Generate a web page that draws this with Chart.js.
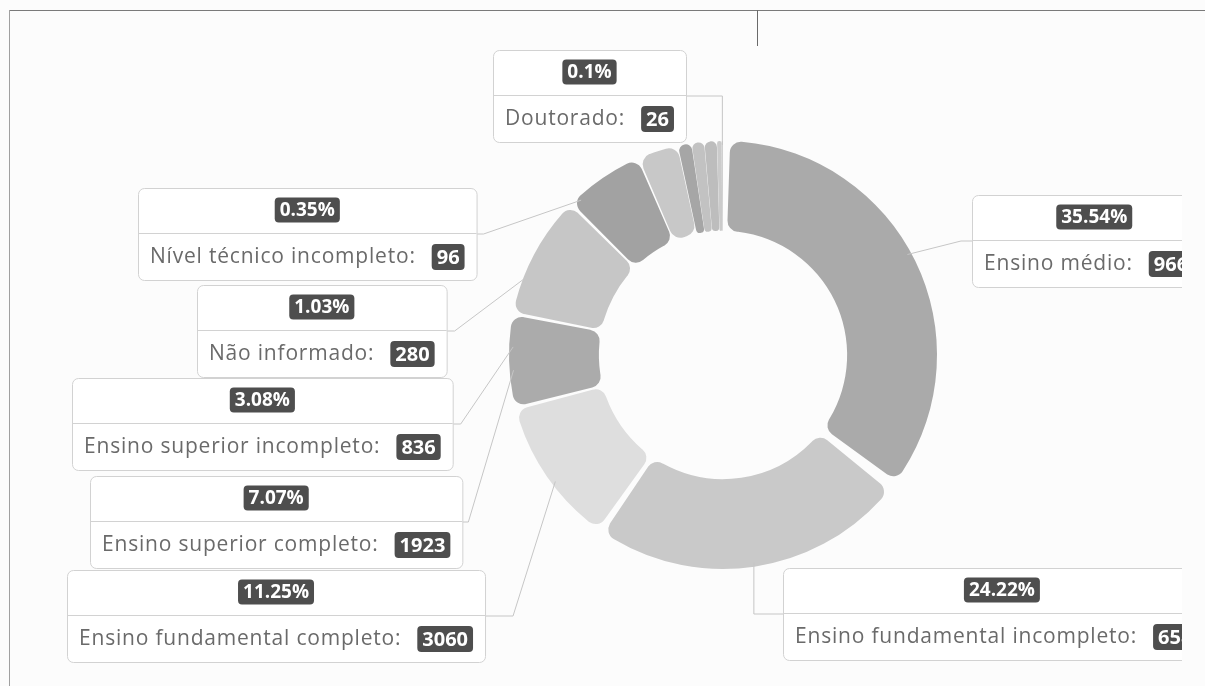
<!DOCTYPE html>
<html lang="pt-BR">
<head>
<meta charset="utf-8">
<title>Escolaridade</title>
<script src="https://cdn.jsdelivr.net/npm/chart.js@4.4.1/dist/chart.umd.min.js"></script>
<style>
    html, body { margin: 0; padding: 0; background: #fcfcfc; }
    body { width: 1205px; height: 686px; position: relative; overflow: hidden; }
    #wrap { position: absolute; left: 0; top: 0; width: 1182px; height: 686px; }
    .frame-top { position: absolute; left: 9px; top: 10px; width: 1196px; height: 1px; background: #7a7a7a; }
    .frame-left { position: absolute; left: 9px; top: 10px; width: 1px; height: 676px; background: #a0a0a0; }
    .frame-tick { position: absolute; left: 757px; top: 10px; width: 1px; height: 36px; background: #6a6a6a; }
</style>
</head>
<body>
<div id="wrap"><canvas id="escolaridade" width="1182" height="686"></canvas></div>
<div class="frame-top"></div>
<div class="frame-left"></div>
<div class="frame-tick"></div>
<script>
// data
const categories = [
    "Ensino médio",
    "Ensino fundamental incompleto",
    "Ensino fundamental completo",
    "Ensino superior completo",
    "Nível técnico completo",
    "Pós-graduação",
    "Ensino superior incompleto",
    "Não informado",
    "Mestrado",
    "Sem escolaridade",
    "Nível técnico incompleto",
    "Doutorado"
];
const counts = [9663, 6585, 3060, 1923, 2550, 1650, 836, 280, 260, 259, 96, 26];
const shares = [35.54, 24.22, 11.25, 7.07, null, null, 3.08, 1.03, null, null, 0.35, 0.1];
const fills = ['#aaaaaa', '#c9c9c9', '#dedede', '#ababab', '#c6c6c6', '#a2a2a2',
               '#c8c8c8', '#a6a6a6', '#c2c2c2', '#bdbdbd', '#cbcbcb', '#d0d0d0'];

// callout boxes: which category, where the box sits, which arc the leader touches
const callouts = [
    { index: 0,  x: 972, y: 195, target: 0,  at: 0.48, bend: 11 },
    { index: 1,  x: 783, y: 568, target: 1,  at: 0.50, bend: 'v' },
    { index: 2,  x: 67,  y: 570, target: 2,  at: 0.44, bend: 28 },
    { index: 3,  x: 90,  y: 476, target: 3,  at: 0.40, bend: 6 },
    { index: 6,  x: 72,  y: 378, target: 3,  at: 0.65, bend: 8 },
    { index: 7,  x: 197, y: 285, target: 4,  at: 0.33, bend: 8 },
    { index: 10, x: 138, y: 188, target: 5,  at: 0.12, bend: 7 },
    { index: 11, x: 493, y: 50,  target: 11, at: 0.50, bend: 'v' }
];

const LABEL_FONT = '21px "Open Sans"';
const BADGE_FONT = 'bold 19px "Open Sans"';
const VALUE_FONT = 'bold 20px "Open Sans"';

const badge = (ctx, text, font, cx, cy, h) => {
    ctx.font = font;
    const w = ctx.measureText(text).width + 10;
    ctx.fillStyle = '#4e4e4e';
    ctx.beginPath();
    ctx.roundRect(cx - w / 2, cy - h / 2, w, h, 4);
    ctx.fill();
    ctx.fillStyle = '#ffffff';
    ctx.textAlign = 'center';
    ctx.textBaseline = 'middle';
    ctx.fillText(text, cx, cy + 1);
};

const calloutPlugin = {
    id: 'callouts',
    afterDatasetsDraw(chart) {
        const ctx = chart.ctx;
        const meta = chart.getDatasetMeta(0);
        ctx.save();
        callouts.forEach(c => {
            const name = categories[c.index] + ':';
            const value = String(counts[c.index]);
            const pct = shares[c.index] + '%';

            ctx.letterSpacing = '0.8px';
            ctx.font = LABEL_FONT;
            const textW = ctx.measureText(name).width;
            ctx.letterSpacing = '0px';
            ctx.font = VALUE_FONT;
            const valW = ctx.measureText(value).width + 10;
            ctx.font = BADGE_FONT;
            const pctW = ctx.measureText(pct).width + 10;
            const gap = 16, pad = 12, h = 92, split = 45;
            const contentW = textW + gap + valW;
            const w = Math.max(contentW, pctW) + pad * 2;

            // leader line from the arc to the box
            const arc = meta.data[c.target];
            const p = arc.getProps(['x', 'y', 'startAngle', 'endAngle', 'outerRadius'], true);
            const ang = p.startAngle + (p.endAngle - p.startAngle) * c.at;
            const ax = p.x + Math.cos(ang) * (p.outerRadius + 1);
            const ay = p.y + Math.sin(ang) * (p.outerRadius + 1);
            const right = c.x + w < ax;
            const edgeX = right ? c.x + w : c.x;
            const midY = c.y + split + 1;
            const elbowX = c.bend === 'v' ? ax : edgeX + (right ? 1 : -1) * c.bend;
            ctx.strokeStyle = '#c6c6c6';
            ctx.lineWidth = 1;
            ctx.beginPath();
            ctx.moveTo(ax, ay);
            ctx.lineTo(elbowX, midY);
            ctx.lineTo(edgeX, midY);
            ctx.stroke();

            // box
            ctx.fillStyle = '#ffffff';
            ctx.strokeStyle = '#d2d2d2';
            ctx.beginPath();
            ctx.roundRect(c.x + 0.5, c.y + 0.5, w, h, 6);
            ctx.fill();
            ctx.stroke();
            ctx.beginPath();
            ctx.moveTo(c.x, c.y + split + 0.5);
            ctx.lineTo(c.x + w, c.y + split + 0.5);
            ctx.stroke();

            const cx = c.x + w / 2;
            badge(ctx, pct, BADGE_FONT, cx, c.y + 22, 25);

            const left = cx - contentW / 2;
            ctx.letterSpacing = '0.8px';
            ctx.font = LABEL_FONT;
            ctx.fillStyle = '#6a6a6a';
            ctx.textAlign = 'left';
            ctx.textBaseline = 'middle';
            ctx.fillText(name, left, c.y + 69);
            ctx.letterSpacing = '0px';
            badge(ctx, value, VALUE_FONT, left + textW + gap + valW / 2, c.y + 69, 26);
        });
        ctx.restore();
    }
};

onload = async () => {
    try {
        await document.fonts.load(LABEL_FONT);
        await document.fonts.load(BADGE_FONT);
    } catch (e) {
        console.log(e);
    }
    new Chart(document.getElementById('escolaridade'), {
        type: 'doughnut',
        data: {
            labels: categories,
            datasets: [{
                data: counts,
                backgroundColor: fills,
                borderWidth: 0,
                borderRadius: 11,
                spacing: 10,
                hoverOffset: 0
            }]
        },
        options: {
            responsive: false,
            animation: false,
            devicePixelRatio: 1,
            cutout: '57%',
            layout: { padding: { left: 509, right: 245, top: 141, bottom: 117 } },
            plugins: { legend: { display: false }, tooltip: { enabled: false } }
        },
        plugins: [calloutPlugin]
    });
};
</script>
</body>
</html>
